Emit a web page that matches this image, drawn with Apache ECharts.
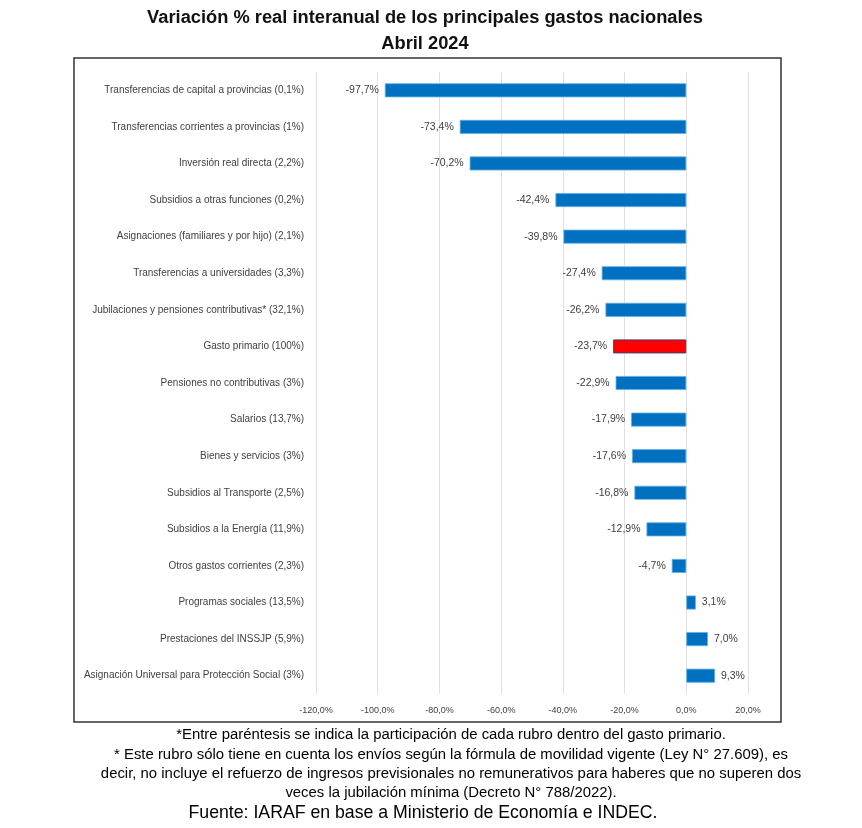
<!DOCTYPE html>
<html><head><meta charset="utf-8">
<script src="https://cdn.jsdelivr.net/npm/echarts@6/dist/echarts.min.js"></script>
<style>html,body{margin:0;padding:0;background:#fff}#c{width:862px;height:828px}</style>
</head><body><div id="c"></div>
<script>
const categories = [
  "Transferencias de capital a provincias (0,1%)",
  "Transferencias corrientes a provincias (1%)",
  "Inversión real directa (2,2%)",
  "Subsidios a otras funciones (0,2%)",
  "Asignaciones (familiares y por hijo) (2,1%)",
  "Transferencias a universidades (3,3%)",
  "Jubilaciones y pensiones contributivas* (32,1%)",
  "Gasto primario (100%)",
  "Pensiones no contributivas (3%)",
  "Salarios (13,7%)",
  "Bienes y servicios (3%)",
  "Subsidios al Transporte (2,5%)",
  "Subsidios a la Energía (11,9%)",
  "Otros gastos corrientes (2,3%)",
  "Programas sociales (13,5%)",
  "Prestaciones del INSSJP (5,9%)",
  "Asignación Universal para Protección Social (3%)"
];
const values = [-97.7, -73.4, -70.2, -42.4, -39.8, -27.4, -26.2, -23.7, -22.9, -17.9, -17.6, -16.8, -12.9, -4.7, 3.1, 7.0, 9.3];
const highlight = "Gasto primario (100%)";
const titleLines = ["Variación % real interanual de los principales gastos nacionales", "Abril 2024"];
const notes = [
  "*Entre paréntesis se indica la participación de cada rubro dentro del gasto primario.",
  "* Este rubro sólo tiene en cuenta los envíos según la fórmula de movilidad vigente (Ley N° 27.609), es",
  "decir, no incluye el refuerzo de ingresos previsionales no remunerativos para haberes que no superen dos",
  "veces la jubilación mínima (Decreto N° 788/2022)."
];
const source = "Fuente: IARAF en base a Ministerio de Economía e INDEC.";

const fmt = v => v.toFixed(1).replace('.', ',') + '%';
const FONT = "'Liberation Sans',Arial,sans-serif";
const chart = echarts.init(document.getElementById('c'), null, {renderer:'canvas'});
const noteY = [735, 755, 774, 793];
chart.setOption({
  animation: false,
  backgroundColor: '#fff',
  grid: {left: 316, right: 114, top: 72, bottom: 134},
  xAxis: {
    type: 'value', min: -120, max: 20, interval: 20,
    axisLine:{show:false}, axisTick:{show:false},
    splitLine:{show:true, lineStyle:{color:'#e0e0e0', width:1}},
    axisLabel:{formatter: v => fmt(v), fontFamily:FONT, fontSize:9, color:'#404040', margin:12}
  },
  yAxis: {
    type: 'category', data: categories, inverse: true,
    axisLine:{show:false}, axisTick:{show:false},
    axisLabel:{fontFamily:FONT, fontSize:10, color:'#404040', margin:12}
  },
  series: [{
    type: 'bar', barWidth: 14,
    data: values.map((v,i) => ({
      value: v,
      itemStyle: categories[i] === highlight
        ? {color:'#ff0000', borderColor:'#3f3f6f', borderWidth:1}
        : {color:'#0070c0', borderColor:'#5fb0e8', borderWidth:0.8},
      label: {position: v < 0 ? 'left' : 'right'}
    })),
    label: {show:true, formatter: p => fmt(p.value), fontFamily:FONT, fontSize:10.5, color:'#404040', distance:6}
  }],
  graphic: [
    {type:'rect', shape:{x:74, y:58, width:707, height:664}, style:{fill:'none', stroke:'#333', lineWidth:1.5}, z:-1},
    {type:'text', x:425, y:18, style:{text:titleLines[0], fontFamily:FONT, fontSize:18.3, fontWeight:'bold', fill:'#111', textAlign:'center', textVerticalAlign:'middle'}},
    {type:'text', x:425, y:44, style:{text:titleLines[1], fontFamily:FONT, fontSize:18.3, fontWeight:'bold', fill:'#111', textAlign:'center', textVerticalAlign:'middle'}},
    ...notes.map((t,i) => ({type:'text', x:451, y:noteY[i], style:{text:t, fontFamily:FONT, fontSize:14.9, fill:'#000', textAlign:'center', textVerticalAlign:'middle'}})),
    {type:'text', x:423, y:813, style:{text:source, fontFamily:FONT, fontSize:17.7, fill:'#000', textAlign:'center', textVerticalAlign:'middle'}}
  ]
});
</script></body></html>
